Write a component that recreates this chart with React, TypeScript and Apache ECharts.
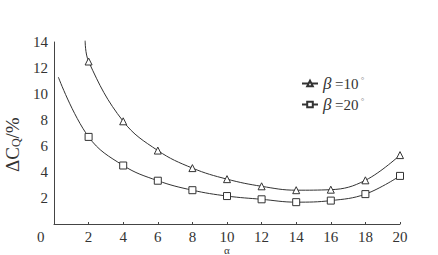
import React, { useEffect, useRef } from "react";
import * as echarts from "echarts";

const alpha = [2, 4, 6, 8, 10, 12, 14, 16, 18, 20];
const beta10 = [12.5, 7.9, 5.65, 4.3, 3.45, 2.9, 2.6, 2.64, 3.36, 5.3];
const beta20 = [6.7, 4.5, 3.33, 2.6, 2.15, 1.9, 1.68, 1.8, 2.3, 3.7];
// where each drawn curve begins (no marker there)
const beta10Start = [1.8, 14.1];
const beta20Start = [0.25, 11.3];
const xTicks = [0, 2, 4, 6, 8, 10, 12, 14, 16, 18, 20];
const yTicks = [0, 2, 4, 6, 8, 10, 12, 14];
const seriesNames = ["β10", "β20"];

const FONT = "Liberation Serif";
const INK = "#333";

export default function App() {
  const ref = useRef<HTMLDivElement>(null);
  useEffect(() => {
    if (!ref.current) return;
    const chart = echarts.init(ref.current, null, { renderer: "svg" });
    const mk = (start: number[], vals: number[]) => [
      { value: start, symbol: "none" },
      ...alpha.map((a, i) => [a, vals[i]]),
    ];
    const lineStyle = { color: INK, width: 1 };
    chart.setOption({
      animation: false,
      backgroundColor: "#fff",
      grid: { left: 54, right: 38, top: 42, bottom: 31 },
      xAxis: {
        type: "value",
        min: xTicks[0],
        max: xTicks[xTicks.length - 1],
        interval: 2,
        axisLine: { lineStyle: { color: "#444", width: 1 } },
        axisTick: { inside: true, length: 2, lineStyle: { color: "#444" } },
        splitLine: { show: false },
        axisLabel: {
          color: INK,
          fontFamily: FONT,
          fontSize: 15,
          margin: 5,
          formatter: (v: number) => (v === 0 ? "" : String(v)),
        },
      },
      yAxis: {
        type: "value",
        min: yTicks[0],
        max: yTicks[yTicks.length - 1],
        interval: 2,
        axisLine: { show: true, lineStyle: { color: "#444", width: 1 } },
        axisTick: { show: false },
        splitLine: { show: false },
        axisLabel: {
          color: INK,
          fontFamily: FONT,
          fontSize: 15,
          margin: 6,
          formatter: (v: number) => (v === 0 ? "" : String(v)),
        },
      },
      legend: {
        orient: "vertical",
        left: 296,
        top: 70,
        itemWidth: 16,
        itemHeight: 7,
        itemGap: 4,
        data: seriesNames,
        formatter: (n: string) =>
          n === "β10" ? "{b|β} {t|=10}{d| °}" : "{b|β} {t|=20}{d| °}",
        textStyle: {
          color: INK,
          fontFamily: FONT,
          fontSize: 14,
          rich: {
            b: { fontFamily: FONT, fontStyle: "italic", fontSize: 17, color: INK },
            t: { fontFamily: FONT, fontSize: 15, color: INK },
            d: { fontFamily: FONT, fontSize: 9, color: "#888", verticalAlign: "top", padding: [0, 0, 6, 0] },
          },
        },
      },
      series: [
        {
          name: seriesNames[0],
          type: "line",
          smooth: 0.4,
          clip: false,
          data: mk(beta10Start, beta10),
          symbol: "triangle",
          symbolSize: 7,
          itemStyle: { color: "#fff", borderColor: INK, borderWidth: 1 },
          lineStyle,
        },
        {
          name: seriesNames[1],
          type: "line",
          smooth: 0.4,
          clip: false,
          data: mk(beta20Start, beta20),
          symbol: "rect",
          symbolSize: 7,
          itemStyle: { color: "#fff", borderColor: INK, borderWidth: 1 },
          lineStyle,
        },
      ],
      graphic: [
        {
          type: "text",
          left: 37,
          top: 229,
          style: { text: "0", fontFamily: FONT, fontSize: 15, fill: INK },
        },
        {
          type: "text",
          x: 3,
          y: 172,
          rotation: Math.PI / 2,
          style: {
            text: "{a|ΔC}{s|Q}{a|/%}",
            rich: {
              a: { fontFamily: FONT, fontSize: 19, fill: INK, color: INK },
              s: { fontFamily: FONT, fontSize: 12, fill: INK, color: INK, verticalAlign: "bottom", padding: [6, 0, 0, 0] },
            },
            fill: INK,
          },
        },
        {
          type: "text",
          left: 224,
          top: 244,
          style: { text: "α", fontFamily: FONT, fontSize: 11, fill: INK },
        },
      ],
    });
    return () => chart.dispose();
  }, []);
  return (
    <div
      ref={ref}
      style={{ position: "absolute", left: 0, top: 0, width: 438, height: 255 }}
    />
  );
}
